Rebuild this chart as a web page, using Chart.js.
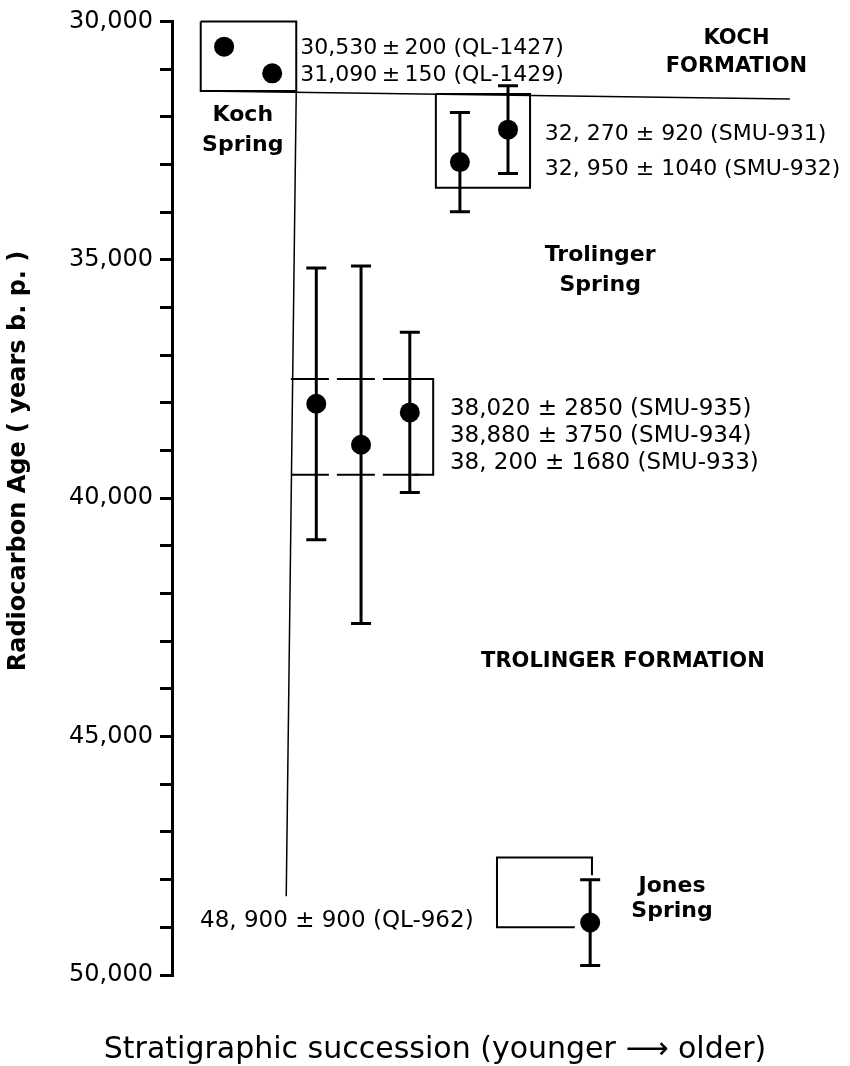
<!DOCTYPE html>
<html>
<head>
<meta charset="utf-8">
<script src="https://cdn.jsdelivr.net/npm/chart.js@4.4.0/dist/chart.umd.min.js"></script>
<style>
  html, body { margin: 0; background: #fff; }
  #wrap { width: 850px; height: 1066px; }
</style>
</head>
<body>
<div id="wrap"><canvas id="chart"></canvas></div>
<script>
// radiocarbon dates, in stratigraphic order along x
let labs = ['QL-1427', 'QL-1429', 'SMU-935', 'SMU-934', 'SMU-933', 'SMU-932', 'SMU-931', 'QL-962']
let ages = [30530, 31090, 38020, 38880, 38200, 32950, 32270, 48900]
let errs = [200, 150, 2850, 3750, 1680, 1040, 920, 900]
// relative position on the succession axis (0 = youngest side)
let succession = [7.8, 15.0, 21.6, 28.3, 35.6, 43.1, 50.3, 62.6]
let yTicks = [30000, 35000, 40000, 45000, 50000]

let FONT = '"DejaVu Sans", sans-serif'

let points = succession.map((p, i) => ({ x: p, y: ages[i] }))

function fmt(i, sp) {
  return ages[i].toLocaleString('en-US') + sp + '\u00b1' + sp + errs[i] + ' (' + labs[i] + ')'
}

let drawing = {
  id: 'drawing',
  beforeDatasetsDraw(chart) {
    let ctx = chart.ctx
    let X = v => chart.scales.x.getPixelForValue(v)
    let Y = v => chart.scales.y.getPixelForValue(v)
    ctx.save()
    ctx.strokeStyle = '#000'
    ctx.lineCap = 'butt'

    function line(pts, w, dash) {
      ctx.lineWidth = w
      ctx.setLineDash(dash || [])
      ctx.beginPath()
      pts.forEach((p, i) => {
        if (i == 0) ctx.moveTo(X(p[0]), Y(p[1]))
        else ctx.lineTo(X(p[0]), Y(p[1]))
      })
      ctx.stroke()
    }

    // Koch Spring box and formation boundary
    line([[4.3, 30000], [18.6, 30000], [18.6, 31460], [4.3, 31460], [4.3, 30000]], 2)
    line([[4.3, 31460], [92.5, 31630]], 1.5)
    // long vertical succession line
    line([[18.6, 31460], [17.1, 48350]], 1.5)
    // Trolinger Spring box
    line([[39.5, 31525], [53.6, 31525], [53.6, 33490], [39.5, 33490], [39.5, 31525]], 2)
    // dashed Trolinger group box
    line([[17.8, 37500], [37.0, 37500]], 2, [38, 8])
    line([[17.8, 39510], [37.0, 39510]], 2, [38, 8])
    line([[36.2, 37500], [39.1, 37500], [39.1, 39510], [36.2, 39510]], 2)
    // Jones Spring bracket
    line([[62.87, 47910], [62.87, 47534], [48.65, 47534], [48.65, 48997], [60.3, 48997]], 2)

    // error bars
    ctx.setLineDash([])
    ctx.lineWidth = 3
    succession.forEach((p, i) => {
      let px = X(p)
      let y1 = Y(ages[i] - errs[i])
      let y2 = Y(ages[i] + errs[i])
      if ((y2 - y1) / 2 < 12) return
      ctx.beginPath()
      ctx.moveTo(px, y1); ctx.lineTo(px, y2)
      ctx.moveTo(px - 10, y1); ctx.lineTo(px + 10, y1)
      ctx.moveTo(px - 10, y2); ctx.lineTo(px + 10, y2)
      ctx.stroke()
    })
    ctx.restore()
  },
  afterDraw(chart) {
    let ctx = chart.ctx
    let X = v => chart.scales.x.getPixelForValue(v)
    let Y = v => chart.scales.y.getPixelForValue(v)
    ctx.save()
    ctx.fillStyle = '#000'
    ctx.textBaseline = 'middle'

    function txt(s, u, a, align, font) {
      ctx.font = font
      ctx.textAlign = align
      ctx.fillText(s, X(u), Y(a))
    }
    let small = '22px ' + FONT
    let num = '23px ' + FONT
    let caps = 'bold 21px ' + FONT
    let name = 'bold 22px ' + FONT

    txt(fmt(0, '\u2009'), 19.2, 30564, 'left', small)
    txt(fmt(1, '\u2009'), 19.2, 31129, 'left', small)
    txt('KOCH', 84.5, 30355, 'center', caps)
    txt('FORMATION', 84.5, 30940, 'center', caps)
    txt('Koch', 10.6, 31964, 'center', name)
    txt('Spring', 10.6, 32591, 'center', name)

    txt(fmt(6, ' ').replace(',', ', '), 55.8, 32362, 'left', small)
    txt(fmt(5, ' ').replace(',', ', '), 55.8, 33093, 'left', small)
    txt('Trolinger', 64.1, 34911, 'center', name)
    txt('Spring', 64.1, 35538, 'center', name)

    txt(fmt(2, ' '), 41.6, 38129, 'left', num)
    txt(fmt(3, ' '), 41.6, 38694, 'left', num)
    txt(fmt(4, ' ').replace(',', ', '), 41.6, 39258, 'left', num)

    txt('TROLINGER FORMATION', 67.5, 43417, 'center', caps)

    txt(fmt(7, ' ').replace(',', ', '), 4.2, 48871, 'left', num)
    txt('Jones', 74.85, 48140, 'center', name)
    txt('Spring', 74.85, 48662, 'center', name)

    // axis titles
    ctx.font = '30px ' + FONT
    ctx.textAlign = 'center'
    ctx.fillText('Stratigraphic succession (younger \u27f6 older)', 435, 1050)

    ctx.translate(19, 461)
    ctx.rotate(-Math.PI / 2)
    ctx.font = 'bold 24px ' + FONT
    ctx.fillText('Radiocarbon Age ( years b. p. )', 0, 0)
    ctx.restore()
  }
}

new Chart(document.getElementById('chart'), {
  type: 'scatter',
  data: {
    datasets: [{
      data: points,
      pointRadius: 10,
      pointHoverRadius: 10,
      backgroundColor: '#000',
      borderWidth: 0
    }]
  },
  options: {
    responsive: true,
    maintainAspectRatio: false,
    animation: false,
    layout: { padding: { left: 0, right: 10, top: 18, bottom: 91 } },
    plugins: { legend: { display: false }, tooltip: { enabled: false } },
    scales: {
      x: { type: 'linear', min: 0, max: 100, display: false },
      y: {
        reverse: true,
        min: 30000,
        max: 50000,
        afterFit: axis => { axis.width = 172 },
        ticks: {
          stepSize: 1000,
          color: '#000',
          padding: 7,
          font: { family: FONT, size: 24 },
          callback: v => yTicks.includes(v) ? v.toLocaleString('en-US') : ''
        },
        grid: { drawOnChartArea: false, tickLength: 12, lineWidth: 3, color: '#000' },
        border: { display: true, color: '#000', width: 3 }
      }
    }
  },
  plugins: [drawing]
})
</script>
</body>
</html>
